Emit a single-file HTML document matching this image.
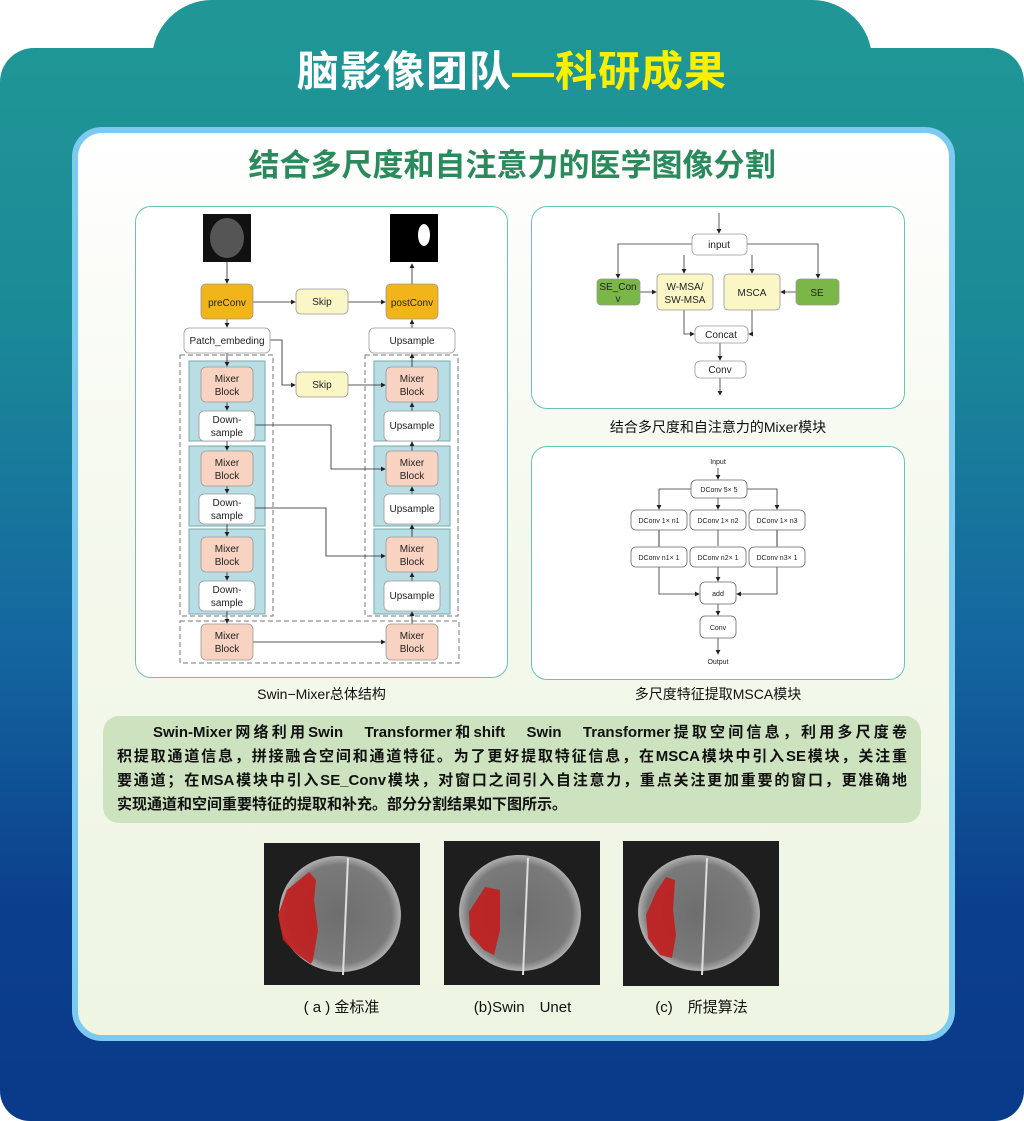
<!DOCTYPE html>
<html><head><meta charset="utf-8"><style>
*{margin:0;padding:0;box-sizing:border-box}
body{width:1024px;height:1121px;background:#fff;position:relative;overflow:hidden;font-family:"Liberation Sans","Noto Sans CJK SC",sans-serif}
.bg{position:absolute;left:0;top:48px;width:1024px;height:1073px;border-radius:34px 34px 30px 30px;background:linear-gradient(#1f9696 0%,#1b8a97 25%,#1467a0 55%,#0b3f8c 80%,#0a3a8a 100%)}
.tab{position:absolute;left:152px;top:0;width:720px;height:120px;border-radius:60px 60px 0 0;background:#209696}
.h1{position:absolute;left:0;width:1024px;top:44px;text-align:center;font-size:42px;font-weight:bold;color:#fff;letter-spacing:1px;line-height:56px}
.h1 span{color:#f8f000}
.panel{position:absolute;left:72px;top:127px;width:883px;height:914px;border-radius:30px;background:linear-gradient(#fff 0%,#f5f9ee 40%,#eef5e2 100%);border:6px solid #7ccaf0}
.h2{position:absolute;left:0;width:1024px;top:146px;text-align:center;font-size:31px;font-weight:bold;color:#2a8a5c;line-height:40px}
.box{position:absolute;border:1.5px solid #6cc2b8;border-radius:16px;background:#fff}
.cap{position:absolute;font-size:14px;color:#111;text-align:center}
.txt{position:absolute;left:103px;top:716px;width:818px;height:107px;border-radius:16px;background:#cde3bf;padding:5px 14px 0 14px;font-size:15px;font-weight:bold;line-height:24px;color:#111}
.ln{text-align:justify;text-align-last:justify;white-space:nowrap;overflow:visible;height:24px}
</style></head><body>
<div class="tab"></div><div class="bg"></div>
<div class="h1">脑影像团队<span>—科研成果</span></div>
<div class="panel"></div>
<div class="h2">结合多尺度和自注意力的医学图像分割</div>
<div class="box" style="left:135px;top:206px;width:373px;height:472px"></div>
<div class="box" style="left:531px;top:206px;width:374px;height:203px"></div>
<div class="box" style="left:531px;top:446px;width:374px;height:234px"></div>
<div class="cap" style="left:135px;width:373px;top:684px">Swin−Mixer总体结构</div>
<div class="cap" style="left:531px;width:374px;top:417px">结合多尺度和自注意力的Mixer模块</div>
<div class="cap" style="left:531px;width:374px;top:684px">多尺度特征提取MSCA模块</div>
<div class="txt">
<div class="ln" style="padding-left:36px;white-space:normal">Swin-Mixer网络利用Swin　Transformer和shift　Swin　Transformer提取空间信息，利用多尺度卷</div>
<div class="ln" style="white-space:normal">积提取通道信息，拼接融合空间和通道特征。为了更好提取特征信息，在MSCA模块中引入SE模块，关注重</div>
<div class="ln" style="white-space:normal">要通道；在MSA模块中引入SE_Conv模块，对窗口之间引入自注意力，重点关注更加重要的窗口，更准确地</div>
<div style="height:24px">实现通道和空间重要特征的提取和补充。部分分割结果如下图所示。</div>
</div>
<div class="cap" style="left:263px;width:157px;top:996px;font-size:15px">( a ) 金标准</div>
<div class="cap" style="left:444px;width:157px;top:996px;font-size:15px">(b)Swin　Unet</div>
<div class="cap" style="left:623px;width:157px;top:996px;font-size:15px">(c)　所提算法</div>
<svg width="1024" height="1121" style="position:absolute;left:0;top:0" font-family="Liberation Sans, sans-serif">
<defs>
<marker id="a" markerWidth="6" markerHeight="6" refX="5" refY="3" orient="auto"><path d="M0,0L6,3L0,6z" fill="#222"/></marker>
<radialGradient id="br" cx="50%" cy="50%" r="50%"><stop offset="0" stop-color="#6e6e6e"/><stop offset="0.85" stop-color="#7a7a7a"/><stop offset="1" stop-color="#b0b0b0"/></radialGradient>
</defs>
<g font-size="10" text-anchor="middle" fill="#222">
<rect x="203" y="214" width="48" height="48" fill="#111"/><ellipse cx="227" cy="238" rx="17" ry="20" fill="#555"/>
<rect x="390" y="214" width="48" height="48" fill="#000"/><ellipse cx="424" cy="235" rx="6" ry="11" fill="#fff"/>
<rect x="180" y="355" width="93" height="261" fill="none" stroke="#777" stroke-dasharray="5,3"/>
<rect x="365" y="355" width="93" height="261" fill="none" stroke="#777" stroke-dasharray="5,3"/>
<rect x="180" y="621" width="279" height="42" fill="none" stroke="#777" stroke-dasharray="5,3"/>
<g fill="#b9dde5" stroke="#7aa">
<rect x="189" y="361" width="76" height="80"/><rect x="189" y="446" width="76" height="80"/><rect x="189" y="529" width="76" height="85"/>
<rect x="374" y="361" width="76" height="80"/><rect x="374" y="446" width="76" height="80"/><rect x="374" y="529" width="76" height="85"/>
</g>
<g stroke="#222" fill="none" stroke-width="0.8" marker-end="url(#a)">
<path d="M227,262V283"/><path d="M253,302H295"/><path d="M348,302H385"/><path d="M412,284V264"/><path d="M227,319V327"/><path d="M412,328V320"/>
<path d="M227,353V366"/><path d="M227,402V410"/><path d="M227,441V450"/><path d="M227,486V493"/><path d="M227,524V536"/><path d="M227,572V580"/><path d="M227,611V623"/>
<path d="M270,340H282V385H295"/><path d="M348,385H385"/><path d="M255,425H331V469H385"/><path d="M255,508H326V556H385"/><path d="M253,642H385"/>
<path d="M412,624V612"/><path d="M412,581V573"/><path d="M412,537V525"/><path d="M412,494V487"/><path d="M412,451V442"/><path d="M412,411V403"/><path d="M412,367V354"/>
</g>
<g stroke="#999" stroke-width="0.8">
<rect x="201" y="284" width="52" height="35" rx="5" fill="#f2b519"/><rect x="386" y="284" width="52" height="35" rx="5" fill="#f2b519"/>
<rect x="296" y="289" width="52" height="25" rx="5" fill="#fbf6c6"/><rect x="296" y="372" width="52" height="25" rx="5" fill="#fbf6c6"/>
<rect x="184" y="328" width="86" height="25" rx="5" fill="#fff"/><rect x="369" y="328" width="86" height="25" rx="5" fill="#fff"/>
<g fill="#f9d3c1"><rect x="201" y="367" width="52" height="35" rx="5"/><rect x="201" y="451" width="52" height="35" rx="5"/><rect x="201" y="537" width="52" height="35" rx="5"/><rect x="201" y="624" width="52" height="36" rx="5"/>
<rect x="386" y="367" width="52" height="35" rx="5"/><rect x="386" y="451" width="52" height="35" rx="5"/><rect x="386" y="537" width="52" height="35" rx="5"/><rect x="386" y="624" width="52" height="36" rx="5"/></g>
<g fill="#fff"><rect x="199" y="411" width="56" height="30" rx="5"/><rect x="199" y="494" width="56" height="30" rx="5"/><rect x="199" y="581" width="56" height="30" rx="5"/>
<rect x="384" y="411" width="56" height="30" rx="5"/><rect x="384" y="494" width="56" height="30" rx="5"/><rect x="384" y="581" width="56" height="30" rx="5"/></g>
</g>
<text x="227" y="306">preConv</text><text x="412" y="306">postConv</text><text x="322" y="305">Skip</text><text x="322" y="388">Skip</text>
<text x="227" y="344">Patch_embeding</text><text x="412" y="344">Upsample</text>
<g><text x="227" y="382">Mixer</text><text x="227" y="395">Block</text><text x="227" y="466">Mixer</text><text x="227" y="479">Block</text><text x="227" y="552">Mixer</text><text x="227" y="565">Block</text><text x="227" y="639">Mixer</text><text x="227" y="652">Block</text>
<text x="412" y="382">Mixer</text><text x="412" y="395">Block</text><text x="412" y="466">Mixer</text><text x="412" y="479">Block</text><text x="412" y="552">Mixer</text><text x="412" y="565">Block</text><text x="412" y="639">Mixer</text><text x="412" y="652">Block</text>
<text x="227" y="423">Down-</text><text x="227" y="436">sample</text><text x="227" y="506">Down-</text><text x="227" y="519">sample</text><text x="227" y="593">Down-</text><text x="227" y="606">sample</text>
<text x="412" y="429">Upsample</text><text x="412" y="512">Upsample</text><text x="412" y="599">Upsample</text></g>
<g stroke="#333" fill="none" stroke-width="0.8" marker-end="url(#a)">
<path d="M719,213V233"/><path d="M692,244H618V278"/><path d="M684,255V273"/><path d="M747,244H818V278"/><path d="M752,255V273"/>
<path d="M640,292H656"/><path d="M796,292H781"/><path d="M684,310V334H694"/><path d="M752,310V334H749"/><path d="M720,343V360"/><path d="M720,378V395"/>
</g>
<g stroke="#999" stroke-width="0.8">
<rect x="692" y="234" width="55" height="21" rx="5" fill="#fff"/>
<rect x="597" y="279" width="43" height="26" rx="4" fill="#7ab648"/><rect x="796" y="279" width="43" height="26" rx="4" fill="#7ab648"/>
<rect x="657" y="274" width="56" height="36" rx="4" fill="#fbf6c6"/><rect x="724" y="274" width="56" height="36" rx="4" fill="#fbf6c6"/>
<rect x="695" y="326" width="53" height="17" rx="5" fill="#fff"/><rect x="695" y="361" width="51" height="17" rx="5" fill="#fff"/>
</g>
<text x="719" y="248">input</text><text x="618" y="290">SE_Con</text><text x="618" y="302">v</text><text x="817" y="296">SE</text>
<text x="685" y="290">W-MSA/</text><text x="685" y="303">SW-MSA</text><text x="752" y="296">MSCA</text><text x="721" y="338">Concat</text><text x="720" y="373">Conv</text>
<g stroke="#333" fill="none" stroke-width="0.8" marker-end="url(#a)">
<path d="M718,468V479"/><path d="M691,489H659V509"/><path d="M718,498V509"/><path d="M747,489H777V509"/>
<path d="M659,530V594H699"/><path d="M718,530V546M718,567V581"/><path d="M777,530V594H737"/><path d="M718,604V615"/><path d="M718,638V654"/>
</g>
<path d="M659,530V546M777,530V546" stroke="#333" stroke-width="0.8"/>
<g stroke="#666" stroke-width="0.8" fill="#fff">
<rect x="691" y="480" width="56" height="18" rx="5"/>
<rect x="631" y="510" width="56" height="20" rx="5"/><rect x="690" y="510" width="56" height="20" rx="5"/><rect x="749" y="510" width="56" height="20" rx="5"/>
<rect x="631" y="547" width="56" height="20" rx="5"/><rect x="690" y="547" width="56" height="20" rx="5"/><rect x="749" y="547" width="56" height="20" rx="5"/>
<rect x="700" y="582" width="36" height="22" rx="5"/><rect x="700" y="616" width="36" height="22" rx="5"/>
</g>
<g font-size="7"><text x="718" y="464">Input</text><text x="719" y="492">DConv 5× 5</text>
<text x="659" y="523">DConv 1× n1</text><text x="718" y="523">DConv 1× n2</text><text x="777" y="523">DConv 1× n3</text>
<text x="659" y="560">DConv n1× 1</text><text x="718" y="560">DConv n2× 1</text><text x="777" y="560">DConv n3× 1</text>
<text x="718" y="596">add</text><text x="718" y="630">Conv</text><text x="718" y="664">Output</text></g>
</g>
<g><rect x="264" y="843" width="156" height="142" fill="#1e1e1e"/>
<ellipse cx="340" cy="914" rx="61" ry="58" fill="url(#br)" transform="rotate(8 340 914)"/>
<path d="M348,858 L343,975" stroke="#ddd" stroke-width="2" fill="none"/>
<path d="M309,872 L316,880 L314,900 L318,930 L313,960 L311,964 L298,955 L283,940 L278,915 L287,890 Z" fill="#c21d1d" opacity="0.9"/></g>
<g><rect x="444" y="841" width="156" height="144" fill="#1e1e1e"/>
<ellipse cx="520" cy="913" rx="61" ry="58" fill="url(#br)" transform="rotate(8 520 913)"/>
<path d="M528,858 L523,975" stroke="#ddd" stroke-width="2" fill="none"/>
<path d="M485,887 L500,890 L500,930 L494,955 L484,950 L470,935 L469,912 Z" fill="#c21d1d" opacity="0.9"/></g>
<g><rect x="623" y="841" width="156" height="145" fill="#1e1e1e"/>
<ellipse cx="699" cy="913" rx="61" ry="58" fill="url(#br)" transform="rotate(8 699 913)"/>
<path d="M707,858 L702,975" stroke="#ddd" stroke-width="2" fill="none"/>
<path d="M666,877 L675,880 L673,910 L676,935 L672,958 L660,955 L648,938 L646,915 L656,892 Z" fill="#c21d1d" opacity="0.9"/></g>
</svg>
</body></html>
